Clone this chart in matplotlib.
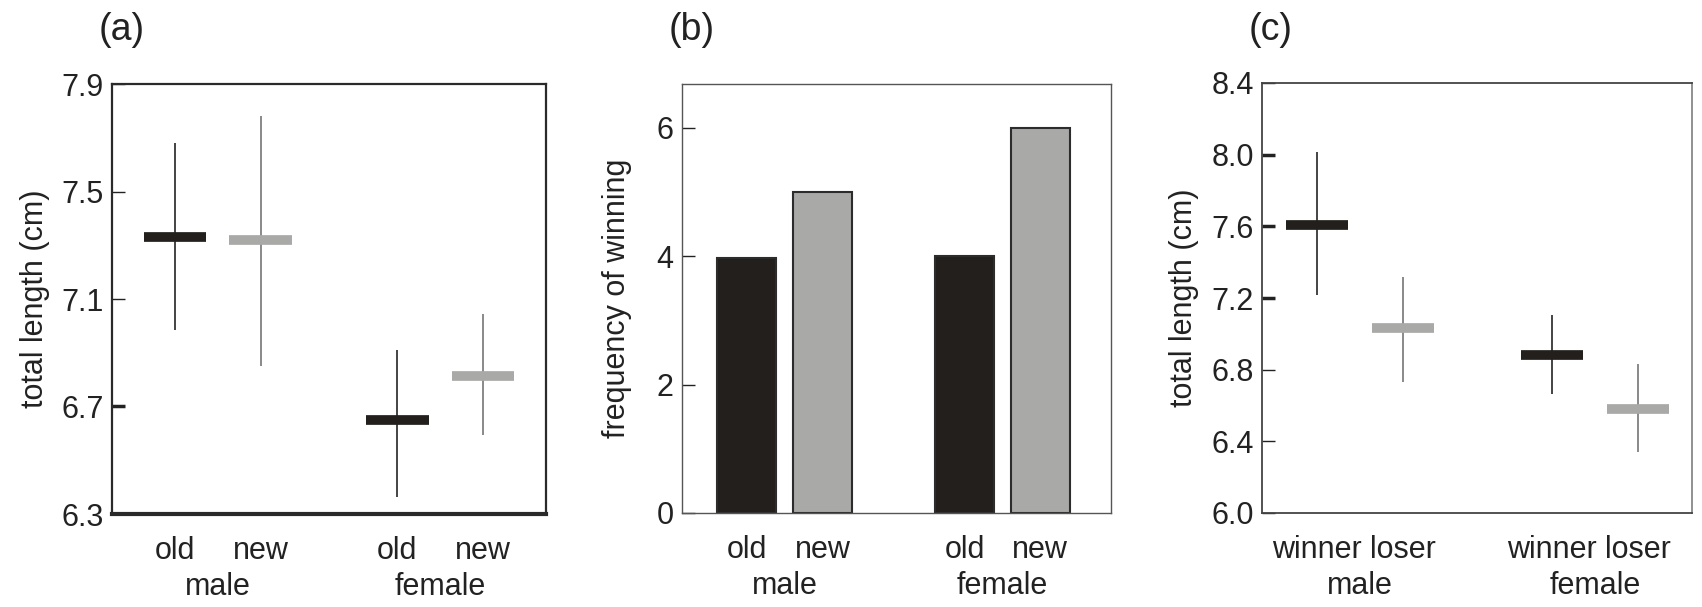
import matplotlib
matplotlib.use('Agg')
import matplotlib.pyplot as plt
import matplotlib.transforms as mtransforms

plt.rcParams['font.family'] = ['Liberation Sans', 'DejaVu Sans']
plt.rcParams['font.size'] = 22
plt.rcParams['text.color'] = '#222222'
plt.rcParams['axes.labelcolor'] = '#222222'
plt.rcParams['xtick.color'] = '#222222'
plt.rcParams['ytick.color'] = '#222222'

# (a) total length by residency
a_ticks = ['old', 'new', 'old', 'new']
a_means = [7.33, 7.32, 6.65, 6.815]
a_low = [6.985, 6.85, 6.365, 6.595]
a_high = [7.68, 7.78, 6.91, 7.045]

# (b) frequency of winning
b_ticks = ['old', 'new', 'old', 'new']
b_freq = [3.97, 5, 4, 6]

# (c) total length by outcome
c_ticks = ['winner', 'loser', 'winner', 'loser']
c_means = [7.61, 7.03, 6.88, 6.58]
c_low = [7.215, 6.73, 6.665, 6.34]
c_high = [8.015, 7.32, 7.105, 6.83]

sexes = ['male', 'female']

DARK = '#221f1c'
GREY = '#a9a9a8'
WHISK = ['#111111', '#6a6a6a', '#111111', '#6a6a6a']
FILLS = [DARK, GREY, DARK, GREY]

fig = plt.figure(figsize=(17.02, 6.07), dpi=100)
W, H = 1702, 607


def add_axes(left, top, right, bottom):
    return fig.add_axes([left / W, 1 - bottom / H, (right - left) / W, (bottom - top) / H])


def style(ax, pos, ticks, lim):
    ax.set_xlim(*lim)
    ax.set_xticks(pos)
    ax.set_xticklabels(ticks)
    ax.tick_params(axis='x', length=0, pad=16)
    ax.tick_params(axis='y', direction='in', length=9.5, width=1.0, pad=6)
    trans = mtransforms.blended_transform_factory(ax.transData, ax.transAxes)
    for i, s in enumerate(sexes):
        xm = (pos[2 * i] + pos[2 * i + 1]) / 2
        ax.text(xm, -0.17, s, transform=trans, ha='center', va='center')


def mean_panel(ax, pos, means, lo, hi, w):
    ax.vlines(pos, lo, hi, colors=WHISK, linewidth=1.1, zorder=2)
    for p, m, c in zip(pos, means, FILLS):
        ax.hlines(m, p - w / 2, p + w / 2, colors=c, linewidth=7, zorder=3)


# panel (a)
ax1 = add_axes(112, 84, 546, 514)
pos_a = [1, 2, 3.6, 4.6]
mean_panel(ax1, pos_a, a_means, a_low, a_high, 0.73)
ax1.set_ylim(6.3, 7.9)
ax1.set_yticks([6.3, 6.7, 7.1, 7.5, 7.9])
ax1.set_yticklabels(['6.3', '6.7', '7.1', '7.5', '7.9'])
ax1.set_ylabel('total length (cm)', labelpad=8)
style(ax1, pos_a, a_ticks, (0.26, 5.34))
for sp in ax1.spines.values():
    sp.set_color('#2a2a2a')
    sp.set_linewidth(1.6)
ax1.spines['bottom'].set_linewidth(3)
ax1.yaxis.get_major_ticks()[1].tick1line.set_markeredgewidth(2.5)

# panel (b)
ax2 = add_axes(682, 84, 1111, 513)
pos_b = [1, 2, 3.87, 4.87]
ax2.bar(pos_b, b_freq, width=0.78, color=FILLS, edgecolor='#2c2c2c', linewidth=1.5, zorder=2)
ax2.set_ylim(0, 6.68)
ax2.set_yticks([0, 2, 4, 6])
ax2.set_ylabel('frequency of winning', labelpad=18)
style(ax2, pos_b, b_ticks, (0.15, 5.8))
for sp in ax2.spines.values():
    sp.set_color('#555555')
    sp.set_linewidth(1.0)

# panel (c)
ax3 = add_axes(1262, 83, 1692, 513)
pos_c = [1, 2, 3.73, 4.73]
mean_panel(ax3, pos_c, c_means, c_low, c_high, 0.72)
ax3.set_ylim(6.0, 8.4)
ax3.set_yticks([6.0, 6.4, 6.8, 7.2, 7.6, 8.0, 8.4])
ax3.set_yticklabels(['6.0', '6.4', '6.8', '7.2', '7.6', '8.0', '8.4'])
ax3.set_ylabel('total length (cm)', labelpad=9)
style(ax3, pos_c, c_ticks, (0.36, 5.36))
for sp in ax3.spines.values():
    sp.set_color('#444444')
    sp.set_linewidth(1.3)
ax3.spines['right'].set_color('#888888')
for i in (3, 4, 5):
    ax3.yaxis.get_major_ticks()[i].tick1line.set_markeredgewidth(2.5)

# panel letters
for x, lab in [(122, '(a)'), (692, '(b)'), (1271, '(c)')]:
    fig.text(x / W, 1 - 30 / H, lab, ha='center', va='center', fontsize=27)

fig.savefig('out.png', dpi=100)
